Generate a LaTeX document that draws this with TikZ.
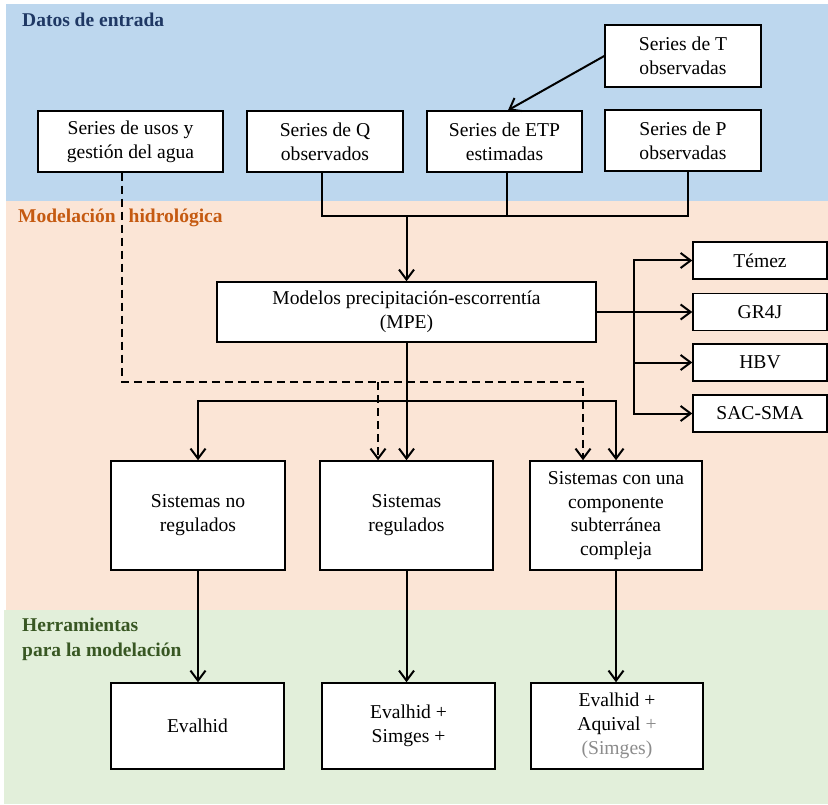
\documentclass[tikz,border=0pt]{standalone}
\usepackage{fontspec}
\setmainfont{Liberation Serif}
\usetikzlibrary{arrows.meta}
\definecolor{bandblue}{HTML}{BDD7EE}
\definecolor{bandpeach}{HTML}{FBE5D6}
\definecolor{bandgreen}{HTML}{E2EFDA}
\definecolor{titleblue}{HTML}{1F3864}
\definecolor{titleorange}{HTML}{C55A11}
\definecolor{titlegreen}{HTML}{385723}
\definecolor{softgray}{HTML}{8C8C8C}

\begin{document}
\begin{tikzpicture}[x=1pt,y=-1pt,
  box/.style={draw, fill=white, line width=1.5pt, align=center, inner sep=0pt,
    font=\fontsize{19.6}{23.8}\selectfont},
  flow/.style={line width=2pt},
  arr/.style={flow, -{Straight Barb[length=10pt,width=15pt]}},
  dflow/.style={flow, dash pattern=on 8pt off 5pt},
  darr/.style={dflow, -{Straight Barb[length=10pt,width=15pt]}},
  bandtitle/.style={anchor=base west, inner sep=0pt, align=left,
    font=\fontsize{19.5}{25}\selectfont\bfseries}
]
\useasboundingbox (0,0) rectangle (828,805);

% background bands
\fill[bandblue]  (6,4)   rectangle (828,201);
\fill[bandpeach] (6,201) rectangle (828,610);
\fill[bandgreen] (4,610) rectangle (828,804);

\node[bandtitle, text=titleblue]   (tin)  at (22,27)  {Datos de entrada};
\node[bandtitle, text=titleorange] (tmod) at (18,223) {Modelación\hspace{13pt}hidrológica};
\node[bandtitle, text=titlegreen]  (ttool) at (22,656) {Herramientas\\para la modelación};

% input series
\node[box, minimum width=185pt, minimum height=61pt] (usos) at (130.5,141.5) {Series de usos y\\gestión del agua};
\node[box, minimum width=156pt, minimum height=61pt] (Q)    at (325,141.5)   {Series de Q\\observados};
\node[box, minimum width=155pt, minimum height=61pt] (ETP)  at (504.5,141.5) {Series de ETP\\estimadas};
\node[box, minimum width=156pt, minimum height=61pt] (P)    at (683,140.5)   {Series de P\\observadas};
\node[box, minimum width=156pt, minimum height=62pt] (T)    at (683,56)      {Series de T\\observadas};

% rainfall-runoff models
\node[box, minimum width=379pt, minimum height=60pt] (MPE) at (406.5,312) {Modelos precipitación-escorrentía\\(MPE)};
\node[box, minimum width=134pt, minimum height=37pt] (Temez) at (760,260.5) {Témez};
\node[box, minimum width=134pt, minimum height=37pt] (GR4J)  at (760,312)   {GR4J};
\node[box, minimum width=134pt, minimum height=37pt] (HBV)   at (760,362.5) {HBV};
\node[box, minimum width=134pt, minimum height=37pt] (SAC)   at (760,413.5) {SAC-SMA};

% system types
\node[box, minimum width=174pt, minimum height=109pt] (NoReg) at (198,515.5)   {Sistemas no\\regulados};
\node[box, minimum width=173pt, minimum height=109pt] (Reg)   at (406.5,515.5) {Sistemas\\regulados};
\node[box, minimum width=172pt, minimum height=109pt] (Comp)  at (616,515.5)   {Sistemas con una\\componente\\subterránea\\compleja};

% tools
\node[box, minimum width=173pt, minimum height=86pt] (Ev1) at (197.5,726) {Evalhid};
\node[box, minimum width=173pt, minimum height=86pt] (Ev2) at (408.5,726) {Evalhid +\\Simges +};
\node[box, minimum width=172pt, minimum height=86pt] (Ev3) at (617,726)   {Evalhid +\\Aquival {\color{softgray}+}\\{\color{softgray}(Simges)}};

% junction points
\coordinate (jin) at (406.5,216);
\coordinate (dj)  at (583,382);
\coordinate (dk)  at (378,382);
\coordinate (sj)  at (406.5,401);
\coordinate (mb)  at (634,312);

% inputs to MPE
\draw[arr]  (T.west) -- ([xshift=3.5pt]ETP.north);
\draw[flow] ([xshift=-3pt]Q.south) |- ([xshift=5pt]P.south |- jin) -- ([xshift=5pt]P.south);
\draw[flow] ([xshift=2.5pt]ETP.south) -- ([xshift=2.5pt]ETP.south |- jin);
\draw[arr]  (jin) -- (MPE.north);

% MPE to individual models
\draw[arr] (MPE.east) -- (GR4J.west);
\draw[arr] (mb) |- (Temez.west);
\draw[arr] (mb) |- (HBV.west);
\draw[arr] (mb) |- (SAC.west);

% water use series (dashed)
\draw[darr] ([xshift=-8.5pt]usos.south) |- (dj) -- (dj |- Comp.north);
\draw[darr] (dk) -- (dk |- Reg.north);

% MPE to system types
\draw[arr] (MPE.south) -- (Reg.north);
\draw[arr] (sj) -| (NoReg.north);
\draw[arr] (sj) -| (Comp.north);

% system types to tools
\draw[arr] (NoReg.south) -- (NoReg.south |- Ev1.north);
\draw[arr] (Reg.south)   -- (Reg.south |- Ev2.north);
\draw[arr] (Comp.south)  -- (Comp.south |- Ev3.north);
\end{tikzpicture}
\end{document}
